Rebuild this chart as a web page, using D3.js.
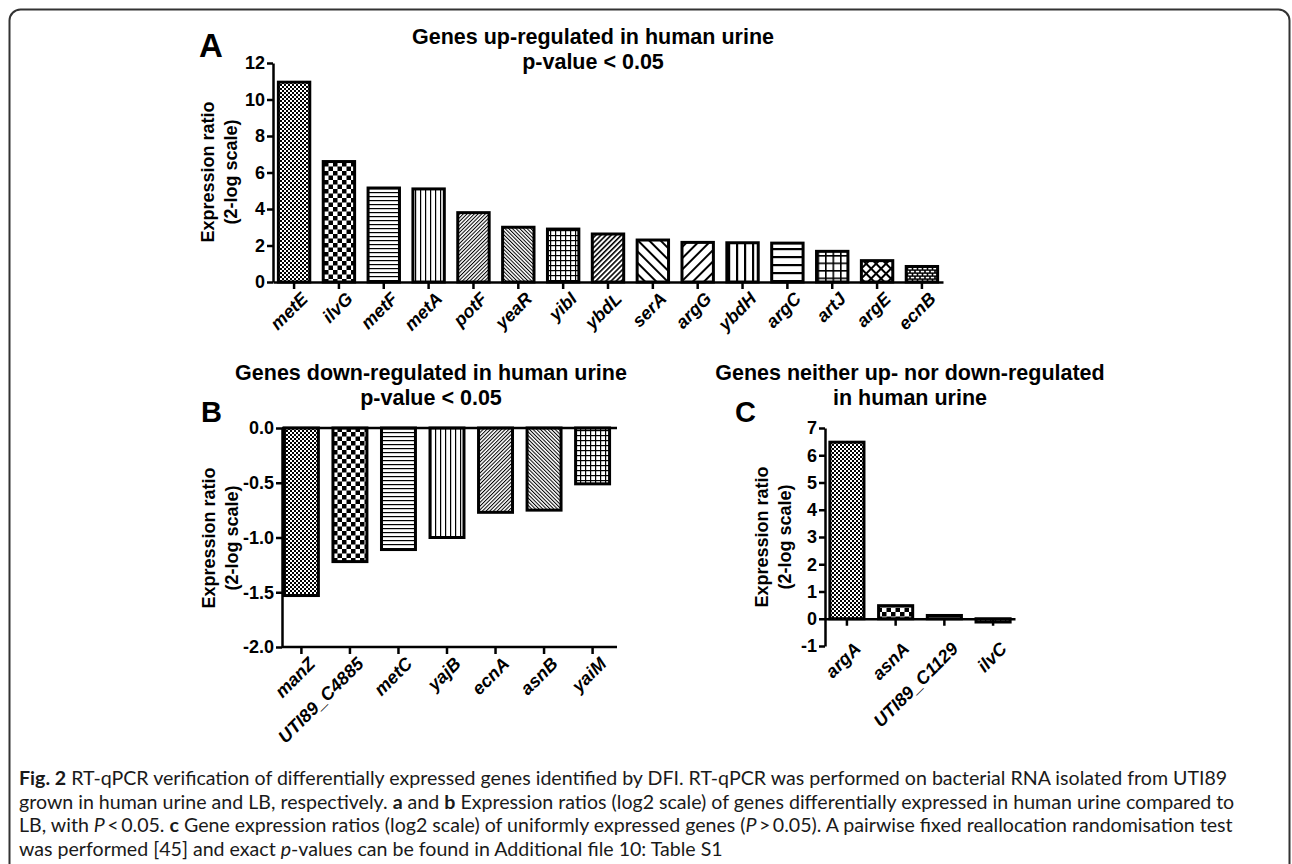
<!DOCTYPE html>
<html>
<head>
<meta charset="utf-8">
<script src="https://cdn.jsdelivr.net/npm/d3@7"></script>
<style>
  body { margin: 0; background: #fff; }
  svg { display: block; }
  .ax text { font-family: "Liberation Sans", Arial, sans-serif; font-weight: bold; }
</style>
</head>
<body>
<div class="board"></div>
<script>
// gene names and expression ratios
const genesA = ["metE","ilvG","metF","metA","potF","yeaR","yibI","ybdL","serA","argG","ybdH","argC","artJ","argE","ecnB"];
const valuesA = [10.95, 6.6, 5.15, 5.1, 3.8, 3.0, 2.9, 2.63, 2.3, 2.17, 2.15, 2.13, 1.68, 1.17, 0.85];
const ticksA = [0, 2, 4, 6, 8, 10, 12];

const genesB = ["manZ","UTI89_C4885","metC","yajB","ecnA","asnB","yaiM"];
const valuesB = [-1.53, -1.22, -1.11, -1.0, -0.77, -0.75, -0.51];
const ticksB = [0, -0.5, -1, -1.5, -2];

const genesC = ["argA","asnA","UTI89_C1129","ilvC"];
const valuesC = [6.48, 0.48, 0.12, -0.12];
const ticksC = [-1, 0, 1, 2, 3, 4, 5, 6, 7];

const font = '"Liberation Sans", Arial, sans-serif';

const svg = d3.select(".board").append("svg")
  .attr("width", 1292)
  .attr("height", 864);

// frame round the figure
svg.append("rect")
  .attr("x", 9.5).attr("y", 9.5)
  .attr("width", 1280).attr("height", 920)
  .attr("rx", 11)
  .attr("fill", "none")
  .attr("stroke", "#333")
  .attr("stroke-width", 2);

// fill patterns, one per bar position (GraphPad style)
const defs = svg.append("defs");
function pat(id, w, h, rot) {
  const p = defs.append("pattern")
    .attr("id", id)
    .attr("patternUnits", "userSpaceOnUse")
    .attr("width", w).attr("height", h);
  if (rot) p.attr("patternTransform", "rotate(" + rot + ")");
  p.append("rect").attr("width", w).attr("height", h).attr("fill", "#fff");
  return p;
}
let p;
p = pat("p0", 4, 4);
p.append("rect").attr("width", 2).attr("height", 2).attr("fill", "#000");
p.append("rect").attr("x", 2).attr("y", 2).attr("width", 2).attr("height", 2).attr("fill", "#000");
p = pat("p1", 9, 9);
p.append("rect").attr("width", 4.5).attr("height", 4.5).attr("fill", "#000");
p.append("rect").attr("x", 4.5).attr("y", 4.5).attr("width", 4.5).attr("height", 4.5).attr("fill", "#000");
p = pat("p2", 4, 4);
p.append("rect").attr("y", 0).attr("width", 4).attr("height", 1.2).attr("fill", "#000");
p = pat("p3", 5, 5);
p.append("rect").attr("x", 0).attr("width", 1.2).attr("height", 5).attr("fill", "#000");
p = pat("p4", 2.6, 2.6, 45);
p.append("rect").attr("width", 1).attr("height", 2.6).attr("fill", "#000");
p = pat("p5", 2.6, 2.6, -45);
p.append("rect").attr("width", 1).attr("height", 2.6).attr("fill", "#000");
p = pat("p6", 5, 5);
p.append("rect").attr("width", 1.2).attr("height", 5).attr("fill", "#000");
p.append("rect").attr("width", 5).attr("height", 1.2).attr("fill", "#000");
p = pat("p7", 3.6, 3.6, 45);
p.append("rect").attr("width", 1.6).attr("height", 3.6).attr("fill", "#000");
p = pat("p8", 8, 8, -45);
p.append("rect").attr("width", 2).attr("height", 8).attr("fill", "#000");
p = pat("p9", 8, 8, 45);
p.append("rect").attr("width", 2).attr("height", 8).attr("fill", "#000");
p = pat("p10", 8, 8);
p.append("rect").attr("width", 2.2).attr("height", 8).attr("fill", "#000");
p = pat("p11", 8, 8);
p.append("rect").attr("width", 8).attr("height", 2.2).attr("fill", "#000");
p = pat("p12", 7.5, 7.5);
p.append("rect").attr("width", 1.6).attr("height", 7.5).attr("fill", "#000");
p.append("rect").attr("width", 7.5).attr("height", 1.6).attr("fill", "#000");
p = pat("p13", 7, 7, 45);
p.append("rect").attr("width", 2).attr("height", 7).attr("fill", "#000");
p.append("rect").attr("width", 7).attr("height", 2).attr("fill", "#000");
p = pat("p14", 10, 6);
p.append("rect").attr("width", 10).attr("height", 6).attr("fill", "#000");
p.append("rect").attr("x", 0.8).attr("y", 0.8).attr("width", 3.4).attr("height", 1.6).attr("fill", "#fff");
p.append("rect").attr("x", 5.8).attr("y", 0.8).attr("width", 3.4).attr("height", 1.6).attr("fill", "#fff");
p.append("rect").attr("x", -1.7).attr("y", 3.8).attr("width", 3.4).attr("height", 1.6).attr("fill", "#fff");
p.append("rect").attr("x", 3.3).attr("y", 3.8).attr("width", 3.4).attr("height", 1.6).attr("fill", "#fff");
p.append("rect").attr("x", 8.3).attr("y", 3.8).attr("width", 3.4).attr("height", 1.6).attr("fill", "#fff");

function styleAxis(g) {
  g.selectAll(".domain").attr("stroke-width", 2.5).attr("stroke", "#000");
  g.selectAll(".tick line").attr("stroke-width", 2.5).attr("stroke", "#000");
  g.selectAll("text").attr("font-size", 18).attr("fill", "#000");
}

function titles(cx, y, lines) {
  lines.forEach(function(t, i) {
    svg.append("text")
      .attr("x", cx).attr("y", y + i * 24.5)
      .attr("text-anchor", "middle")
      .attr("font-family", font).attr("font-weight", "bold")
      .attr("font-size", 21.5)
      .text(t);
  });
}

function panelLetter(x, y, size, t) {
  svg.append("text").attr("x", x).attr("y", y)
    .attr("font-family", font).attr("font-weight", "bold")
    .attr("font-size", size).text(t);
}

function yLabel(x, cy) {
  const t = svg.append("text")
    .attr("transform", "translate(" + x + "," + cy + ") rotate(-90)")
    .attr("text-anchor", "middle")
    .attr("font-family", font).attr("font-weight", "bold")
    .attr("font-size", 18);
  t.append("tspan").attr("x", 0).attr("y", 0).text("Expression ratio");
  t.append("tspan").attr("x", 0).attr("y", 23).text("(2-log scale)");
}

function geneLabels(g, x, genes, y0) {
  g.selectAll(".glab").data(genes).enter().append("text")
    .attr("class", "glab")
    .attr("transform", d => "translate(" + (x(d) + x.bandwidth() / 2 + 6) + "," + y0 + ") rotate(-45)")
    .attr("dy", "0.7em")
    .attr("text-anchor", "end")
    .attr("font-family", font).attr("font-weight", "bold").attr("font-style", "italic")
    .attr("font-size", 18)
    .text(d => d);
}

function bars(g, genes, values, x, y) {
  g.selectAll(".bar").data(genes).enter().append("rect")
    .attr("class", "bar")
    .attr("x", d => x(d))
    .attr("width", x.bandwidth())
    .attr("y", (d, i) => Math.min(y(values[i]), y(0)))
    .attr("height", (d, i) => Math.abs(y(values[i]) - y(0)))
    .attr("fill", (d, i) => "url(#p" + i + ")")
    .attr("stroke", "#000")
    .attr("stroke-width", 3);
}

// ---- panel A
const xA = d3.scaleBand().domain(genesA).range([273, 943]).paddingInner(0.3).paddingOuter(0.12);
const yA = d3.scaleLinear().domain([0, 12]).range([282, 63]);
const gA = svg.append("g");
bars(gA, genesA, valuesA, xA, yA);
gA.append("g").attr("class", "ax").attr("transform", "translate(273,0)")
  .call(d3.axisLeft(yA).tickValues(ticksA).tickSize(6).tickSizeOuter(0).tickPadding(2))
  .call(styleAxis);
gA.append("g").attr("class", "ax").attr("transform", "translate(0,282)")
  .call(d3.axisBottom(xA).tickSize(7).tickSizeOuter(0).tickFormat(""))
  .call(styleAxis);
geneLabels(gA, xA, genesA, 291);
titles(593, 44, ["Genes up-regulated in human urine", "p-value < 0.05"]);
panelLetter(199, 57, 33, "A");
yLabel(214, 172);

// ---- panel B
const xB = d3.scaleBand().domain(genesB).range([282, 612]).paddingInner(0.3).paddingOuter(0.05);
const yB = d3.scaleLinear().domain([-2, 0]).range([647, 428]);
const gB = svg.append("g");
bars(gB, genesB, valuesB, xB, yB);
gB.append("g").attr("class", "ax").attr("transform", "translate(282,0)")
  .call(d3.axisLeft(yB).tickValues(ticksB).tickSize(6).tickSizeOuter(0).tickPadding(2)
    .tickFormat(d => d.toFixed(1)))
  .call(styleAxis);
gB.append("line").attr("x1", 282).attr("x2", 617).attr("y1", yB(0)).attr("y2", yB(0))
  .attr("stroke", "#000").attr("stroke-width", 2.5);
const axB = gB.append("g").attr("class", "ax").attr("transform", "translate(0,647)")
  .call(d3.axisBottom(xB).tickSize(7).tickSizeOuter(0).tickFormat(""))
  .call(styleAxis);
axB.select(".domain").attr("d", "M282,0H617");
geneLabels(gB, xB, genesB, 656);
titles(431, 380, ["Genes down-regulated in human urine", "p-value < 0.05"]);
panelLetter(201, 422, 29, "B");
yLabel(215, 538);

// ---- panel C
const xC = d3.scaleBand().domain(genesC).range([825, 1015]).paddingInner(0.3).paddingOuter(0.1);
const yC = d3.scaleLinear().domain([-1, 7]).range([646, 428]);
const gC = svg.append("g");
bars(gC, genesC, valuesC, xC, yC);
gC.append("g").attr("class", "ax").attr("transform", "translate(825,0)")
  .call(d3.axisLeft(yC).tickValues(ticksC).tickSize(6).tickSizeOuter(0).tickPadding(2)
    .tickFormat(d => String(d)))
  .call(styleAxis);
gC.append("g").attr("class", "ax").attr("transform", "translate(0," + yC(0) + ")")
  .call(d3.axisBottom(xC).tickSize(7).tickSizeOuter(0).tickFormat(""))
  .call(styleAxis);
geneLabels(gC, xC, genesC, 641);
titles(910, 380, ["Genes neither up- nor down-regulated", "in human urine"]);
panelLetter(735, 422, 29, "C");
yLabel(768, 537);

// ---- caption
const capLines = [
  [["b", "Fig. 2"], ["", " RT-qPCR verification of differentially expressed genes identified by DFI. RT-qPCR was performed on bacterial RNA isolated from UTI89"]],
  [["", "grown in human urine and LB, respectively. "], ["b", "a"], ["", " and "], ["b", "b"], ["", " Expression ratios (log2 scale) of genes differentially expressed in human urine compared to"]],
  [["", "LB, with "], ["i", "P"], ["", "\u2009<\u20090.05. "], ["b", "c"], ["", " Gene expression ratios (log2 scale) of uniformly expressed genes ("], ["i", "P"], ["", "\u2009>\u20090.05). A pairwise fixed reallocation randomisation test"]],
  [["", "was performed [45] and exact "], ["i", "p"], ["", "-values can be found in Additional file 10: Table S1"]]
];
capLines.forEach(function(parts, i) {
  const t = svg.append("text")
    .attr("x", 19).attr("y", 785 + i * 23.5)
    .attr("font-family", "Lato, 'Open Sans', sans-serif")
    .attr("font-size", 19.6)
    .attr("fill", "#1a1a1a");
  parts.forEach(function(pt) {
    const s = t.append("tspan").text(pt[1]);
    if (pt[0] === "b") s.attr("font-weight", "bold");
    if (pt[0] === "i") s.attr("font-style", "italic");
  });
});
</script>
</body>
</html>
